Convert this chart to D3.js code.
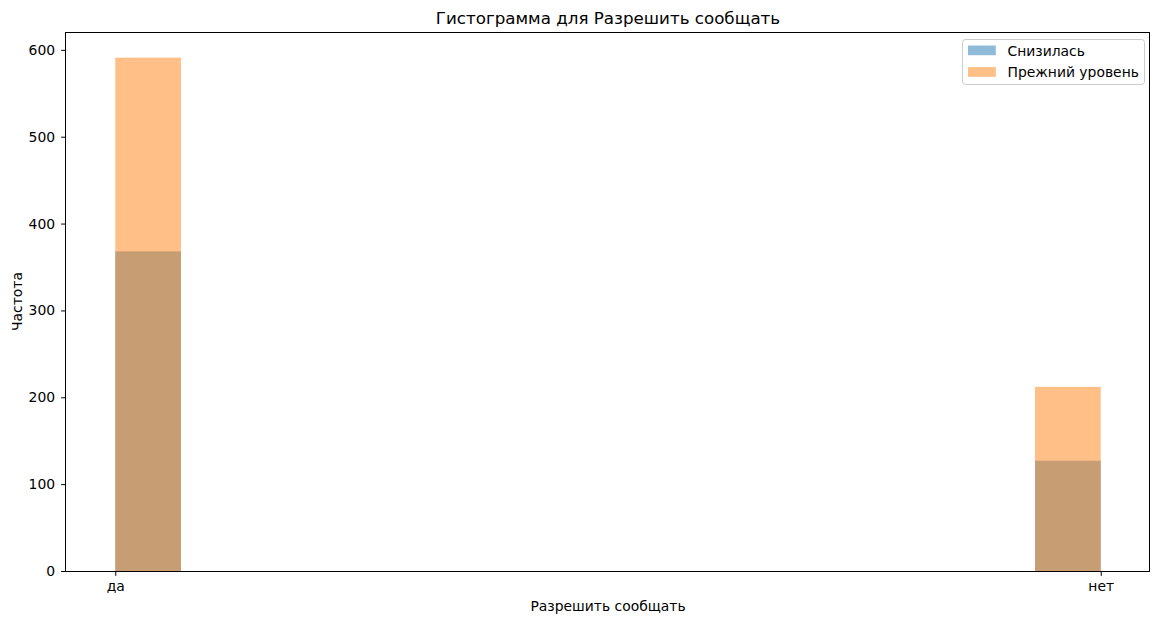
<!DOCTYPE html>
<html><head><meta charset="utf-8">
<script src="https://cdn.jsdelivr.net/npm/d3@7"></script>
<style>body{margin:0;background:#fff;} text{font-family:"DejaVu Sans",sans-serif;}</style>
</head><body>
<svg id="c" width="1160" height="624"></svg>
<script>
const categories = ["да", "нет"];
const seriesNames = ["Снизилась", "Прежний уровень"];
const declined = [368, 127];
const same = [591, 212];
const yTicks = [0, 100, 200, 300, 400, 500, 600];
const nBins = 15;

const FS = 13.9;
const svg = d3.select("#c");
const m = {l: 66, r: 1150, t: 32, b: 571};
const x = d3.scaleLinear().domain([-0.05, 1.05]).range([m.l, m.r]);
const ymax = d3.max(same.concat(declined)) * 1.05;
const y = d3.scaleLinear().domain([0, ymax]).range([m.b, m.t]);

const series = [
  {name: seriesNames[0], vals: declined, color: "#1f77b4"},
  {name: seriesNames[1], vals: same, color: "#ff7f0e"}
];
const bw = 1 / nBins;
series.forEach(s => {
  svg.append("g").selectAll("rect").data(s.vals).join("rect")
    .attr("x", (d, i) => x(i === 0 ? 0 : 1 - bw))
    .attr("width", x(bw) - x(0))
    .attr("y", d => y(d))
    .attr("height", d => y(0) - y(d))
    .attr("fill", s.color).attr("fill-opacity", 0.5);
});

const xAxis = d3.axisBottom(x).tickValues([0, 1]).tickFormat((d, i) => categories[i]).tickSize(4.9).tickPadding(4.9);
const gx = svg.append("g").attr("transform", `translate(0,${m.b})`).call(xAxis);
const yAxis = d3.axisLeft(y).tickValues(yTicks).tickSize(4.9).tickPadding(6);
const gy = svg.append("g").attr("transform", `translate(${m.l},0)`).call(yAxis);
[gx, gy].forEach(g => {
  g.select(".domain").remove();
  g.selectAll("text").attr("font-size", FS).attr("fill", "#000").style("font-family", "DejaVu Sans");
  g.selectAll("line").attr("stroke", "#000");
});
svg.append("rect").attr("x", m.l - 0.5).attr("y", m.t + 0.5).attr("width", m.r - m.l).attr("height", m.b - m.t)
  .attr("fill", "none").attr("stroke", "#000").attr("stroke-width", 1);

svg.append("text").attr("x", (m.l + m.r) / 2).attr("y", 24).attr("text-anchor", "middle")
  .attr("font-size", 16.7).text("Гистограмма для " + "Разрешить сообщать");
svg.append("text").attr("x", (m.l + m.r) / 2).attr("y", 611).attr("text-anchor", "middle")
  .attr("font-size", FS).text("Разрешить сообщать");
svg.append("text").attr("transform", `translate(22,${(m.t + m.b) / 2}) rotate(-90)`).attr("text-anchor", "middle")
  .attr("font-size", FS).text("Частота");

const lg = svg.append("g").attr("transform", "translate(962,39)");
lg.append("rect").attr("x", 0.5).attr("y", 0.5).attr("width", 182).attr("height", 45).attr("rx", 3)
  .attr("fill", "#fff").attr("fill-opacity", 0.8).attr("stroke", "#ccc");
series.forEach((s, i) => {
  lg.append("rect").attr("x", 6).attr("y", 6.5 + i * 21.6).attr("width", 27.8).attr("height", 9.7)
    .attr("fill", s.color).attr("fill-opacity", 0.5);
  lg.append("text").attr("x", 45.5).attr("y", 16.5 + i * 21.6).attr("font-size", FS).text(s.name);
});
</script>
</body></html>
